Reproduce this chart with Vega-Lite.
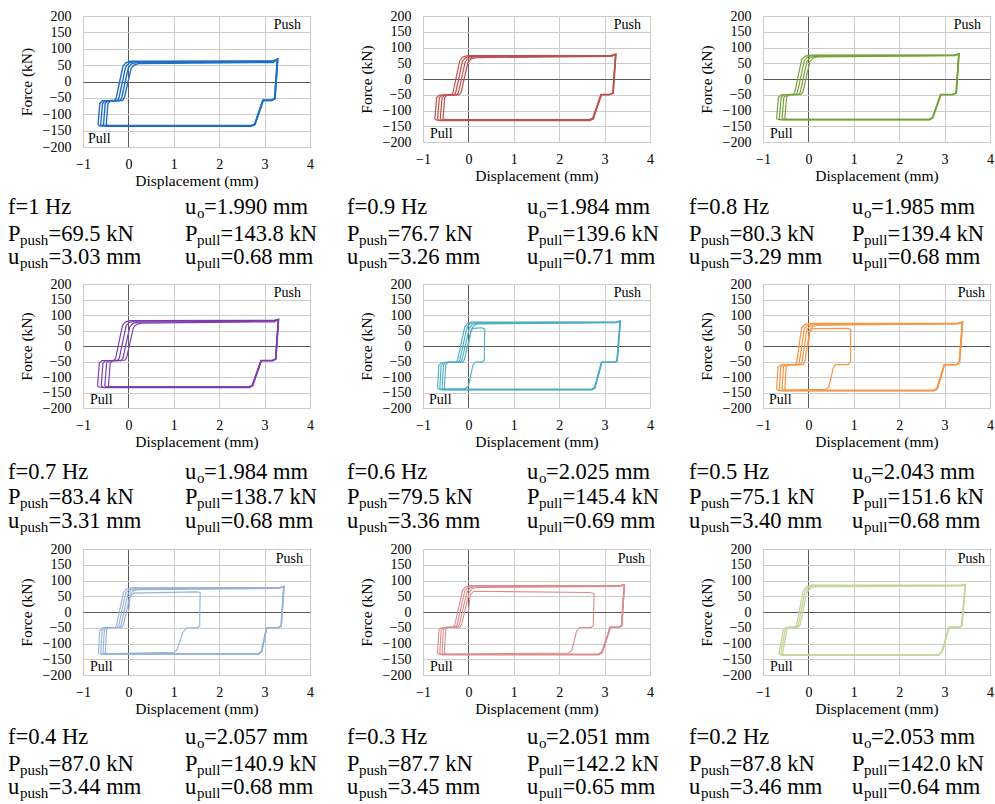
{
"$schema": "https://vega.github.io/schema/vega-lite/v6.json",
"usermeta": {"embedOptions": {"actions": false}},
"padding": {"left": 8, "top": 8, "right": 0, "bottom": 3},
"columns": 3,
"spacing": {"row": 0, "column": 113},
"bounds": "flush",
"datasets": {
"tags": [{"t": "Push"}, {"t": "Pull"}],
"labels": [
{"p":1,"k":0,"r":0,"b":"f=1 Hz","s":"","t":""},{"p":1,"k":1,"r":0,"b":"u","s":"o","t":"=1.990 mm"},{"p":1,"k":0,"r":1,"b":"P","s":"push","t":"=69.5 kN"},{"p":1,"k":1,"r":1,"b":"P","s":"pull","t":"=143.8 kN"},{"p":1,"k":0,"r":2,"b":"u","s":"push","t":"=3.03 mm"},{"p":1,"k":1,"r":2,"b":"u","s":"pull","t":"=0.68 mm"},
{"p":2,"k":0,"r":0,"b":"f=0.9 Hz","s":"","t":""},{"p":2,"k":1,"r":0,"b":"u","s":"o","t":"=1.984 mm"},{"p":2,"k":0,"r":1,"b":"P","s":"push","t":"=76.7 kN"},{"p":2,"k":1,"r":1,"b":"P","s":"pull","t":"=139.6 kN"},{"p":2,"k":0,"r":2,"b":"u","s":"push","t":"=3.26 mm"},{"p":2,"k":1,"r":2,"b":"u","s":"pull","t":"=0.71 mm"},
{"p":3,"k":0,"r":0,"b":"f=0.8 Hz","s":"","t":""},{"p":3,"k":1,"r":0,"b":"u","s":"o","t":"=1.985 mm"},{"p":3,"k":0,"r":1,"b":"P","s":"push","t":"=80.3 kN"},{"p":3,"k":1,"r":1,"b":"P","s":"pull","t":"=139.4 kN"},{"p":3,"k":0,"r":2,"b":"u","s":"push","t":"=3.29 mm"},{"p":3,"k":1,"r":2,"b":"u","s":"pull","t":"=0.68 mm"},
{"p":4,"k":0,"r":0,"b":"f=0.7 Hz","s":"","t":""},{"p":4,"k":1,"r":0,"b":"u","s":"o","t":"=1.984 mm"},{"p":4,"k":0,"r":1,"b":"P","s":"push","t":"=83.4 kN"},{"p":4,"k":1,"r":1,"b":"P","s":"pull","t":"=138.7 kN"},{"p":4,"k":0,"r":2,"b":"u","s":"push","t":"=3.31 mm"},{"p":4,"k":1,"r":2,"b":"u","s":"pull","t":"=0.68 mm"},
{"p":5,"k":0,"r":0,"b":"f=0.6 Hz","s":"","t":""},{"p":5,"k":1,"r":0,"b":"u","s":"o","t":"=2.025 mm"},{"p":5,"k":0,"r":1,"b":"P","s":"push","t":"=79.5 kN"},{"p":5,"k":1,"r":1,"b":"P","s":"pull","t":"=145.4 kN"},{"p":5,"k":0,"r":2,"b":"u","s":"push","t":"=3.36 mm"},{"p":5,"k":1,"r":2,"b":"u","s":"pull","t":"=0.69 mm"},
{"p":6,"k":0,"r":0,"b":"f=0.5 Hz","s":"","t":""},{"p":6,"k":1,"r":0,"b":"u","s":"o","t":"=2.043 mm"},{"p":6,"k":0,"r":1,"b":"P","s":"push","t":"=75.1 kN"},{"p":6,"k":1,"r":1,"b":"P","s":"pull","t":"=151.6 kN"},{"p":6,"k":0,"r":2,"b":"u","s":"push","t":"=3.40 mm"},{"p":6,"k":1,"r":2,"b":"u","s":"pull","t":"=0.68 mm"},
{"p":7,"k":0,"r":0,"b":"f=0.4 Hz","s":"","t":""},{"p":7,"k":1,"r":0,"b":"u","s":"o","t":"=2.057 mm"},{"p":7,"k":0,"r":1,"b":"P","s":"push","t":"=87.0 kN"},{"p":7,"k":1,"r":1,"b":"P","s":"pull","t":"=140.9 kN"},{"p":7,"k":0,"r":2,"b":"u","s":"push","t":"=3.44 mm"},{"p":7,"k":1,"r":2,"b":"u","s":"pull","t":"=0.68 mm"},
{"p":8,"k":0,"r":0,"b":"f=0.3 Hz","s":"","t":""},{"p":8,"k":1,"r":0,"b":"u","s":"o","t":"=2.051 mm"},{"p":8,"k":0,"r":1,"b":"P","s":"push","t":"=87.7 kN"},{"p":8,"k":1,"r":1,"b":"P","s":"pull","t":"=142.2 kN"},{"p":8,"k":0,"r":2,"b":"u","s":"push","t":"=3.45 mm"},{"p":8,"k":1,"r":2,"b":"u","s":"pull","t":"=0.65 mm"},
{"p":9,"k":0,"r":0,"b":"f=0.2 Hz","s":"","t":""},{"p":9,"k":1,"r":0,"b":"u","s":"o","t":"=2.053 mm"},{"p":9,"k":0,"r":1,"b":"P","s":"push","t":"=87.8 kN"},{"p":9,"k":1,"r":1,"b":"P","s":"pull","t":"=142.0 kN"},{"p":9,"k":0,"r":2,"b":"u","s":"push","t":"=3.46 mm"},{"p":9,"k":1,"r":2,"b":"u","s":"pull","t":"=0.64 mm"}
],
"loops": [
{"p":1,"c":0,"x":-0.67,"y":-133},{"p":1,"c":0,"x":-0.63,"y":-67},{"p":1,"c":0,"x":-0.57,"y":-59},{"p":1,"c":0,"x":-0.31,"y":-59},{"p":1,"c":0,"x":-0.27,"y":-51},{"p":1,"c":0,"x":-0.12,"y":47},{"p":1,"c":0,"x":-0.05,"y":58},{"p":1,"c":0,"x":0.05,"y":62},{"p":1,"c":0,"x":3.19,"y":63},{"p":1,"c":0,"x":3.29,"y":69},{"p":1,"c":0,"x":3.23,"y":-53},{"p":1,"c":0,"x":3.15,"y":-58},{"p":1,"c":0,"x":2.97,"y":-58},{"p":1,"c":0,"x":2.79,"y":-131},{"p":1,"c":0,"x":2.71,"y":-136},{"p":1,"c":0,"x":-0.62,"y":-136},{"p":1,"c":0,"x":-0.67,"y":-133},
{"p":1,"c":1,"x":-0.61,"y":-133},{"p":1,"c":1,"x":-0.57,"y":-67},{"p":1,"c":1,"x":-0.51,"y":-59},{"p":1,"c":1,"x":-0.25,"y":-59},{"p":1,"c":1,"x":-0.21,"y":-51},{"p":1,"c":1,"x":-0.06,"y":45},{"p":1,"c":1,"x":0.01,"y":56},{"p":1,"c":1,"x":0.11,"y":60},{"p":1,"c":1,"x":3.19,"y":61},{"p":1,"c":1,"x":3.29,"y":69},{"p":1,"c":1,"x":3.23,"y":-53},{"p":1,"c":1,"x":3.15,"y":-58},{"p":1,"c":1,"x":2.97,"y":-58},{"p":1,"c":1,"x":2.79,"y":-130},{"p":1,"c":1,"x":2.71,"y":-134},{"p":1,"c":1,"x":-0.56,"y":-134},{"p":1,"c":1,"x":-0.61,"y":-133},
{"p":1,"c":2,"x":-0.55,"y":-134},{"p":1,"c":2,"x":-0.51,"y":-67},{"p":1,"c":2,"x":-0.45,"y":-59},{"p":1,"c":2,"x":-0.19,"y":-59},{"p":1,"c":2,"x":-0.15,"y":-51},{"p":1,"c":2,"x":0.0,"y":43},{"p":1,"c":2,"x":0.07,"y":54},{"p":1,"c":2,"x":0.17,"y":58},{"p":1,"c":2,"x":3.19,"y":60},{"p":1,"c":2,"x":3.28,"y":68},{"p":1,"c":2,"x":3.22,"y":-53},{"p":1,"c":2,"x":3.14,"y":-57},{"p":1,"c":2,"x":2.96,"y":-57},{"p":1,"c":2,"x":2.78,"y":-132},{"p":1,"c":2,"x":2.7,"y":-137},{"p":1,"c":2,"x":-0.5,"y":-137},{"p":1,"c":2,"x":-0.55,"y":-134},
{"p":1,"c":3,"x":-0.49,"y":-132},{"p":1,"c":3,"x":-0.45,"y":-67},{"p":1,"c":3,"x":-0.39,"y":-58},{"p":1,"c":3,"x":-0.13,"y":-58},{"p":1,"c":3,"x":-0.09,"y":-50},{"p":1,"c":3,"x":0.06,"y":40},{"p":1,"c":3,"x":0.13,"y":51},{"p":1,"c":3,"x":0.23,"y":55},{"p":1,"c":3,"x":3.19,"y":58},{"p":1,"c":3,"x":3.28,"y":68},{"p":1,"c":3,"x":3.22,"y":-52},{"p":1,"c":3,"x":3.14,"y":-57},{"p":1,"c":3,"x":2.96,"y":-57},{"p":1,"c":3,"x":2.78,"y":-130},{"p":1,"c":3,"x":2.7,"y":-135},{"p":1,"c":3,"x":-0.44,"y":-135},{"p":1,"c":3,"x":-0.49,"y":-132},

{"p":2,"c":0,"x":-0.74,"y":-128},{"p":2,"c":0,"x":-0.70,"y":-59},{"p":2,"c":0,"x":-0.64,"y":-51},{"p":2,"c":0,"x":-0.38,"y":-51},{"p":2,"c":0,"x":-0.34,"y":-43},{"p":2,"c":0,"x":-0.19,"y":59},{"p":2,"c":0,"x":-0.12,"y":70},{"p":2,"c":0,"x":-0.02,"y":74},{"p":2,"c":0,"x":3.15,"y":75},{"p":2,"c":0,"x":3.25,"y":79},{"p":2,"c":0,"x":3.19,"y":-45},{"p":2,"c":0,"x":3.11,"y":-50},{"p":2,"c":0,"x":2.93,"y":-50},{"p":2,"c":0,"x":2.75,"y":-126},{"p":2,"c":0,"x":2.67,"y":-131},{"p":2,"c":0,"x":-0.69,"y":-131},{"p":2,"c":0,"x":-0.74,"y":-128},
{"p":2,"c":1,"x":-0.68,"y":-128},{"p":2,"c":1,"x":-0.64,"y":-59},{"p":2,"c":1,"x":-0.58,"y":-51},{"p":2,"c":1,"x":-0.32,"y":-51},{"p":2,"c":1,"x":-0.28,"y":-43},{"p":2,"c":1,"x":-0.13,"y":57},{"p":2,"c":1,"x":-0.06,"y":68},{"p":2,"c":1,"x":0.04,"y":72},{"p":2,"c":1,"x":3.15,"y":74},{"p":2,"c":1,"x":3.25,"y":79},{"p":2,"c":1,"x":3.19,"y":-45},{"p":2,"c":1,"x":3.11,"y":-50},{"p":2,"c":1,"x":2.93,"y":-50},{"p":2,"c":1,"x":2.75,"y":-127},{"p":2,"c":1,"x":2.67,"y":-132},{"p":2,"c":1,"x":-0.63,"y":-132},{"p":2,"c":1,"x":-0.68,"y":-128},
{"p":2,"c":2,"x":-0.62,"y":-127},{"p":2,"c":2,"x":-0.58,"y":-59},{"p":2,"c":2,"x":-0.52,"y":-51},{"p":2,"c":2,"x":-0.26,"y":-51},{"p":2,"c":2,"x":-0.22,"y":-43},{"p":2,"c":2,"x":-0.07,"y":55},{"p":2,"c":2,"x":0.0,"y":66},{"p":2,"c":2,"x":0.1,"y":70},{"p":2,"c":2,"x":3.15,"y":73},{"p":2,"c":2,"x":3.24,"y":78},{"p":2,"c":2,"x":3.18,"y":-45},{"p":2,"c":2,"x":3.1,"y":-50},{"p":2,"c":2,"x":2.92,"y":-50},{"p":2,"c":2,"x":2.74,"y":-125},{"p":2,"c":2,"x":2.66,"y":-130},{"p":2,"c":2,"x":-0.57,"y":-130},{"p":2,"c":2,"x":-0.62,"y":-127},
{"p":2,"c":3,"x":-0.56,"y":-126},{"p":2,"c":3,"x":-0.52,"y":-58},{"p":2,"c":3,"x":-0.46,"y":-50},{"p":2,"c":3,"x":-0.2,"y":-50},{"p":2,"c":3,"x":-0.16,"y":-42},{"p":2,"c":3,"x":-0.01,"y":53},{"p":2,"c":3,"x":0.06,"y":64},{"p":2,"c":3,"x":0.16,"y":68},{"p":2,"c":3,"x":3.15,"y":72},{"p":2,"c":3,"x":3.24,"y":78},{"p":2,"c":3,"x":3.18,"y":-45},{"p":2,"c":3,"x":3.1,"y":-49},{"p":2,"c":3,"x":2.92,"y":-49},{"p":2,"c":3,"x":2.74,"y":-124},{"p":2,"c":3,"x":2.66,"y":-129},{"p":2,"c":3,"x":-0.51,"y":-129},{"p":2,"c":3,"x":-0.56,"y":-126},

{"p":3,"c":0,"x":-0.70,"y":-126},{"p":3,"c":0,"x":-0.66,"y":-58},{"p":3,"c":0,"x":-0.60,"y":-50},{"p":3,"c":0,"x":-0.34,"y":-50},{"p":3,"c":0,"x":-0.30,"y":-42},{"p":3,"c":0,"x":-0.15,"y":61},{"p":3,"c":0,"x":-0.08,"y":72},{"p":3,"c":0,"x":0.02,"y":76},{"p":3,"c":0,"x":3.22,"y":77},{"p":3,"c":0,"x":3.32,"y":80},{"p":3,"c":0,"x":3.26,"y":-45},{"p":3,"c":0,"x":3.18,"y":-50},{"p":3,"c":0,"x":2.92,"y":-50},{"p":3,"c":0,"x":2.74,"y":-123},{"p":3,"c":0,"x":2.67,"y":-129},{"p":3,"c":0,"x":-0.65,"y":-129},{"p":3,"c":0,"x":-0.70,"y":-126},
{"p":3,"c":1,"x":-0.64,"y":-126},{"p":3,"c":1,"x":-0.60,"y":-58},{"p":3,"c":1,"x":-0.54,"y":-50},{"p":3,"c":1,"x":-0.28,"y":-50},{"p":3,"c":1,"x":-0.24,"y":-42},{"p":3,"c":1,"x":-0.09,"y":59},{"p":3,"c":1,"x":-0.02,"y":70},{"p":3,"c":1,"x":0.08,"y":74},{"p":3,"c":1,"x":3.22,"y":76},{"p":3,"c":1,"x":3.32,"y":80},{"p":3,"c":1,"x":3.26,"y":-45},{"p":3,"c":1,"x":3.18,"y":-50},{"p":3,"c":1,"x":2.92,"y":-50},{"p":3,"c":1,"x":2.74,"y":-124},{"p":3,"c":1,"x":2.67,"y":-130},{"p":3,"c":1,"x":-0.59,"y":-130},{"p":3,"c":1,"x":-0.64,"y":-126},
{"p":3,"c":2,"x":-0.58,"y":-125},{"p":3,"c":2,"x":-0.54,"y":-58},{"p":3,"c":2,"x":-0.48,"y":-50},{"p":3,"c":2,"x":-0.22,"y":-50},{"p":3,"c":2,"x":-0.18,"y":-42},{"p":3,"c":2,"x":-0.03,"y":57},{"p":3,"c":2,"x":0.04,"y":68},{"p":3,"c":2,"x":0.14,"y":72},{"p":3,"c":2,"x":3.22,"y":75},{"p":3,"c":2,"x":3.31,"y":79},{"p":3,"c":2,"x":3.25,"y":-45},{"p":3,"c":2,"x":3.17,"y":-50},{"p":3,"c":2,"x":2.91,"y":-50},{"p":3,"c":2,"x":2.73,"y":-123},{"p":3,"c":2,"x":2.66,"y":-128},{"p":3,"c":2,"x":-0.53,"y":-128},{"p":3,"c":2,"x":-0.58,"y":-125},
{"p":3,"c":3,"x":-0.52,"y":-125},{"p":3,"c":3,"x":-0.48,"y":-57},{"p":3,"c":3,"x":-0.42,"y":-49},{"p":3,"c":3,"x":-0.16,"y":-49},{"p":3,"c":3,"x":-0.12,"y":-41},{"p":3,"c":3,"x":0.03,"y":55},{"p":3,"c":3,"x":0.10,"y":66},{"p":3,"c":3,"x":0.20,"y":70},{"p":3,"c":3,"x":3.22,"y":74},{"p":3,"c":3,"x":3.31,"y":79},{"p":3,"c":3,"x":3.25,"y":-45},{"p":3,"c":3,"x":3.17,"y":-49},{"p":3,"c":3,"x":2.91,"y":-49},{"p":3,"c":3,"x":2.73,"y":-123},{"p":3,"c":3,"x":2.66,"y":-128},{"p":3,"c":3,"x":-0.47,"y":-128},{"p":3,"c":3,"x":-0.52,"y":-125},

{"p":4,"c":0,"x":-0.68,"y":-130},{"p":4,"c":0,"x":-0.64,"y":-55},{"p":4,"c":0,"x":-0.58,"y":-47},{"p":4,"c":0,"x":-0.32,"y":-47},{"p":4,"c":0,"x":-0.28,"y":-39},{"p":4,"c":0,"x":-0.13,"y":67},{"p":4,"c":0,"x":-0.06,"y":78},{"p":4,"c":0,"x":0.04,"y":82},{"p":4,"c":0,"x":3.21,"y":83},{"p":4,"c":0,"x":3.31,"y":86},{"p":4,"c":0,"x":3.25,"y":-42},{"p":4,"c":0,"x":3.18,"y":-47},{"p":4,"c":0,"x":2.93,"y":-47},{"p":4,"c":0,"x":2.74,"y":-127},{"p":4,"c":0,"x":2.67,"y":-133},{"p":4,"c":0,"x":-0.63,"y":-133},{"p":4,"c":0,"x":-0.68,"y":-130},
{"p":4,"c":1,"x":-0.60,"y":-130},{"p":4,"c":1,"x":-0.56,"y":-55},{"p":4,"c":1,"x":-0.50,"y":-47},{"p":4,"c":1,"x":-0.24,"y":-47},{"p":4,"c":1,"x":-0.20,"y":-39},{"p":4,"c":1,"x":-0.05,"y":65},{"p":4,"c":1,"x":0.02,"y":76},{"p":4,"c":1,"x":0.12,"y":80},{"p":4,"c":1,"x":3.21,"y":82},{"p":4,"c":1,"x":3.31,"y":86},{"p":4,"c":1,"x":3.25,"y":-42},{"p":4,"c":1,"x":3.18,"y":-47},{"p":4,"c":1,"x":2.93,"y":-47},{"p":4,"c":1,"x":2.74,"y":-128},{"p":4,"c":1,"x":2.67,"y":-134},{"p":4,"c":1,"x":-0.55,"y":-134},{"p":4,"c":1,"x":-0.60,"y":-130},
{"p":4,"c":2,"x":-0.52,"y":-129},{"p":4,"c":2,"x":-0.48,"y":-55},{"p":4,"c":2,"x":-0.42,"y":-47},{"p":4,"c":2,"x":-0.16,"y":-47},{"p":4,"c":2,"x":-0.12,"y":-39},{"p":4,"c":2,"x":0.03,"y":62},{"p":4,"c":2,"x":0.10,"y":73},{"p":4,"c":2,"x":0.20,"y":77},{"p":4,"c":2,"x":3.21,"y":80},{"p":4,"c":2,"x":3.30,"y":85},{"p":4,"c":2,"x":3.24,"y":-42},{"p":4,"c":2,"x":3.17,"y":-47},{"p":4,"c":2,"x":2.92,"y":-47},{"p":4,"c":2,"x":2.73,"y":-126},{"p":4,"c":2,"x":2.66,"y":-132},{"p":4,"c":2,"x":-0.47,"y":-132},{"p":4,"c":2,"x":-0.52,"y":-129},
{"p":4,"c":3,"x":-0.44,"y":-129},{"p":4,"c":3,"x":-0.40,"y":-54},{"p":4,"c":3,"x":-0.34,"y":-46},{"p":4,"c":3,"x":-0.08,"y":-46},{"p":4,"c":3,"x":-0.04,"y":-38},{"p":4,"c":3,"x":0.11,"y":59},{"p":4,"c":3,"x":0.18,"y":70},{"p":4,"c":3,"x":0.28,"y":74},{"p":4,"c":3,"x":3.21,"y":78},{"p":4,"c":3,"x":3.30,"y":85},{"p":4,"c":3,"x":3.24,"y":-42},{"p":4,"c":3,"x":3.17,"y":-46},{"p":4,"c":3,"x":2.92,"y":-46},{"p":4,"c":3,"x":2.73,"y":-126},{"p":4,"c":3,"x":2.66,"y":-132},{"p":4,"c":3,"x":-0.39,"y":-132},{"p":4,"c":3,"x":-0.44,"y":-129},

{"p":5,"c":9,"x":0.0,"y":0},{"p":5,"c":9,"x":0.05,"y":45},{"p":5,"c":9,"x":0.1,"y":57},{"p":5,"c":9,"x":0.3,"y":59},{"p":5,"c":9,"x":0.36,"y":55},{"p":5,"c":9,"x":0.35,"y":-45},{"p":5,"c":9,"x":0.3,"y":-52},{"p":5,"c":9,"x":0.16,"y":-52},{"p":5,"c":9,"x":0.1,"y":-62},{"p":5,"c":9,"x":0.0,"y":-130},{"p":5,"c":9,"x":-0.08,"y":-138},{"p":5,"c":9,"x":-0.6,"y":-140},
{"p":5,"c":0,"x":-0.68,"y":-137},{"p":5,"c":0,"x":-0.65,"y":-62},{"p":5,"c":0,"x":-0.59,"y":-53},{"p":5,"c":0,"x":-0.28,"y":-53},{"p":5,"c":0,"x":-0.24,"y":-45},{"p":5,"c":0,"x":-0.08,"y":61},{"p":5,"c":0,"x":-0.02,"y":73},{"p":5,"c":0,"x":0.06,"y":77},{"p":5,"c":0,"x":3.25,"y":78},{"p":5,"c":0,"x":3.35,"y":81},{"p":5,"c":0,"x":3.28,"y":-48},{"p":5,"c":0,"x":3.22,"y":-53},{"p":5,"c":0,"x":2.94,"y":-53},{"p":5,"c":0,"x":2.79,"y":-135},{"p":5,"c":0,"x":2.72,"y":-141},{"p":5,"c":0,"x":-0.63,"y":-141},{"p":5,"c":0,"x":-0.68,"y":-137},
{"p":5,"c":1,"x":-0.63,"y":-137},{"p":5,"c":1,"x":-0.60,"y":-62},{"p":5,"c":1,"x":-0.54,"y":-53},{"p":5,"c":1,"x":-0.23,"y":-53},{"p":5,"c":1,"x":-0.19,"y":-45},{"p":5,"c":1,"x":-0.03,"y":59},{"p":5,"c":1,"x":0.03,"y":71},{"p":5,"c":1,"x":0.11,"y":75},{"p":5,"c":1,"x":3.25,"y":77},{"p":5,"c":1,"x":3.35,"y":81},{"p":5,"c":1,"x":3.28,"y":-48},{"p":5,"c":1,"x":3.22,"y":-53},{"p":5,"c":1,"x":2.94,"y":-53},{"p":5,"c":1,"x":2.79,"y":-136},{"p":5,"c":1,"x":2.72,"y":-142},{"p":5,"c":1,"x":-0.58,"y":-142},{"p":5,"c":1,"x":-0.63,"y":-137},
{"p":5,"c":2,"x":-0.58,"y":-136},{"p":5,"c":2,"x":-0.55,"y":-61},{"p":5,"c":2,"x":-0.49,"y":-52},{"p":5,"c":2,"x":-0.18,"y":-52},{"p":5,"c":2,"x":-0.14,"y":-44},{"p":5,"c":2,"x":0.02,"y":57},{"p":5,"c":2,"x":0.08,"y":69},{"p":5,"c":2,"x":0.16,"y":73},{"p":5,"c":2,"x":3.25,"y":76},{"p":5,"c":2,"x":3.34,"y":80},{"p":5,"c":2,"x":3.27,"y":-48},{"p":5,"c":2,"x":3.21,"y":-52},{"p":5,"c":2,"x":2.93,"y":-52},{"p":5,"c":2,"x":2.78,"y":-134},{"p":5,"c":2,"x":2.71,"y":-140},{"p":5,"c":2,"x":-0.53,"y":-140},{"p":5,"c":2,"x":-0.58,"y":-136},
{"p":5,"c":3,"x":-0.53,"y":-136},{"p":5,"c":3,"x":-0.50,"y":-61},{"p":5,"c":3,"x":-0.44,"y":-52},{"p":5,"c":3,"x":-0.13,"y":-52},{"p":5,"c":3,"x":-0.09,"y":-44},{"p":5,"c":3,"x":0.07,"y":55},{"p":5,"c":3,"x":0.13,"y":67},{"p":5,"c":3,"x":0.21,"y":71},{"p":5,"c":3,"x":3.25,"y":75},{"p":5,"c":3,"x":3.34,"y":80},{"p":5,"c":3,"x":3.27,"y":-48},{"p":5,"c":3,"x":3.21,"y":-52},{"p":5,"c":3,"x":2.93,"y":-52},{"p":5,"c":3,"x":2.78,"y":-134},{"p":5,"c":3,"x":2.71,"y":-140},{"p":5,"c":3,"x":-0.48,"y":-140},{"p":5,"c":3,"x":-0.53,"y":-136},

{"p":6,"c":9,"x":0.0,"y":0},{"p":6,"c":9,"x":0.03,"y":45},{"p":6,"c":9,"x":0.1,"y":56},{"p":6,"c":9,"x":0.85,"y":57},{"p":6,"c":9,"x":0.93,"y":54},{"p":6,"c":9,"x":0.93,"y":-50},{"p":6,"c":9,"x":0.88,"y":-60},{"p":6,"c":9,"x":0.6,"y":-60},{"p":6,"c":9,"x":0.55,"y":-70},{"p":6,"c":9,"x":0.45,"y":-132},{"p":6,"c":9,"x":0.38,"y":-140},{"p":6,"c":9,"x":-0.6,"y":-143},
{"p":6,"c":0,"x":-0.70,"y":-140},{"p":6,"c":0,"x":-0.67,"y":-69},{"p":6,"c":0,"x":-0.61,"y":-61},{"p":6,"c":0,"x":-0.30,"y":-61},{"p":6,"c":0,"x":-0.26,"y":-53},{"p":6,"c":0,"x":-0.15,"y":58},{"p":6,"c":0,"x":-0.08,"y":69},{"p":6,"c":0,"x":0.02,"y":73},{"p":6,"c":0,"x":3.30,"y":74},{"p":6,"c":0,"x":3.40,"y":78},{"p":6,"c":0,"x":3.33,"y":-53},{"p":6,"c":0,"x":3.27,"y":-60},{"p":6,"c":0,"x":3.0,"y":-60},{"p":6,"c":0,"x":2.84,"y":-138},{"p":6,"c":0,"x":2.76,"y":-144},{"p":6,"c":0,"x":-0.65,"y":-144},{"p":6,"c":0,"x":-0.70,"y":-140},
{"p":6,"c":1,"x":-0.64,"y":-140},{"p":6,"c":1,"x":-0.61,"y":-69},{"p":6,"c":1,"x":-0.55,"y":-61},{"p":6,"c":1,"x":-0.24,"y":-61},{"p":6,"c":1,"x":-0.20,"y":-53},{"p":6,"c":1,"x":-0.09,"y":56},{"p":6,"c":1,"x":-0.02,"y":67},{"p":6,"c":1,"x":0.08,"y":71},{"p":6,"c":1,"x":3.30,"y":73},{"p":6,"c":1,"x":3.40,"y":78},{"p":6,"c":1,"x":3.33,"y":-53},{"p":6,"c":1,"x":3.27,"y":-60},{"p":6,"c":1,"x":3.0,"y":-60},{"p":6,"c":1,"x":2.84,"y":-139},{"p":6,"c":1,"x":2.76,"y":-145},{"p":6,"c":1,"x":-0.59,"y":-145},{"p":6,"c":1,"x":-0.64,"y":-140},
{"p":6,"c":2,"x":-0.58,"y":-139},{"p":6,"c":2,"x":-0.55,"y":-68},{"p":6,"c":2,"x":-0.49,"y":-60},{"p":6,"c":2,"x":-0.18,"y":-60},{"p":6,"c":2,"x":-0.14,"y":-52},{"p":6,"c":2,"x":-0.03,"y":54},{"p":6,"c":2,"x":0.04,"y":65},{"p":6,"c":2,"x":0.14,"y":69},{"p":6,"c":2,"x":3.30,"y":72},{"p":6,"c":2,"x":3.39,"y":77},{"p":6,"c":2,"x":3.32,"y":-53},{"p":6,"c":2,"x":3.26,"y":-60},{"p":6,"c":2,"x":2.99,"y":-60},{"p":6,"c":2,"x":2.83,"y":-137},{"p":6,"c":2,"x":2.75,"y":-143},{"p":6,"c":2,"x":-0.53,"y":-143},{"p":6,"c":2,"x":-0.58,"y":-139},
{"p":6,"c":3,"x":-0.52,"y":-139},{"p":6,"c":3,"x":-0.49,"y":-68},{"p":6,"c":3,"x":-0.43,"y":-60},{"p":6,"c":3,"x":-0.12,"y":-60},{"p":6,"c":3,"x":-0.08,"y":-52},{"p":6,"c":3,"x":0.03,"y":52},{"p":6,"c":3,"x":0.10,"y":63},{"p":6,"c":3,"x":0.20,"y":67},{"p":6,"c":3,"x":3.30,"y":71},{"p":6,"c":3,"x":3.39,"y":77},{"p":6,"c":3,"x":3.32,"y":-53},{"p":6,"c":3,"x":3.26,"y":-60},{"p":6,"c":3,"x":2.99,"y":-60},{"p":6,"c":3,"x":2.83,"y":-137},{"p":6,"c":3,"x":2.75,"y":-143},{"p":6,"c":3,"x":-0.47,"y":-143},{"p":6,"c":3,"x":-0.52,"y":-139},

{"p":7,"c":9,"x":0.0,"y":0},{"p":7,"c":9,"x":0.04,"y":50},{"p":7,"c":9,"x":0.12,"y":60},{"p":7,"c":9,"x":1.5,"y":64},{"p":7,"c":9,"x":1.58,"y":62},{"p":7,"c":9,"x":1.57,"y":-45},{"p":7,"c":9,"x":1.52,"y":-50},{"p":7,"c":9,"x":1.29,"y":-50},{"p":7,"c":9,"x":1.2,"y":-65},{"p":7,"c":9,"x":1.07,"y":-120},{"p":7,"c":9,"x":1.0,"y":-128},{"p":7,"c":9,"x":-0.6,"y":-133},
{"p":7,"c":0,"x":-0.66,"y":-130},{"p":7,"c":0,"x":-0.63,"y":-58},{"p":7,"c":0,"x":-0.57,"y":-50},{"p":7,"c":0,"x":-0.30,"y":-50},{"p":7,"c":0,"x":-0.26,"y":-42},{"p":7,"c":0,"x":-0.11,"y":62},{"p":7,"c":0,"x":-0.04,"y":73},{"p":7,"c":0,"x":0.06,"y":77},{"p":7,"c":0,"x":3.33,"y":78},{"p":7,"c":0,"x":3.43,"y":82},{"p":7,"c":0,"x":3.37,"y":-45},{"p":7,"c":0,"x":3.31,"y":-50},{"p":7,"c":0,"x":3.05,"y":-50},{"p":7,"c":0,"x":2.94,"y":-125},{"p":7,"c":0,"x":2.87,"y":-133},{"p":7,"c":0,"x":-0.61,"y":-133},{"p":7,"c":0,"x":-0.66,"y":-130},
{"p":7,"c":1,"x":-0.61,"y":-130},{"p":7,"c":1,"x":-0.58,"y":-58},{"p":7,"c":1,"x":-0.52,"y":-50},{"p":7,"c":1,"x":-0.25,"y":-50},{"p":7,"c":1,"x":-0.21,"y":-42},{"p":7,"c":1,"x":-0.06,"y":60},{"p":7,"c":1,"x":0.01,"y":71},{"p":7,"c":1,"x":0.11,"y":75},{"p":7,"c":1,"x":3.33,"y":77},{"p":7,"c":1,"x":3.43,"y":82},{"p":7,"c":1,"x":3.37,"y":-45},{"p":7,"c":1,"x":3.31,"y":-50},{"p":7,"c":1,"x":3.05,"y":-50},{"p":7,"c":1,"x":2.94,"y":-126},{"p":7,"c":1,"x":2.87,"y":-134},{"p":7,"c":1,"x":-0.56,"y":-134},{"p":7,"c":1,"x":-0.61,"y":-130},
{"p":7,"c":2,"x":-0.56,"y":-129},{"p":7,"c":2,"x":-0.53,"y":-57},{"p":7,"c":2,"x":-0.47,"y":-49},{"p":7,"c":2,"x":-0.20,"y":-49},{"p":7,"c":2,"x":-0.16,"y":-41},{"p":7,"c":2,"x":-0.01,"y":58},{"p":7,"c":2,"x":0.06,"y":69},{"p":7,"c":2,"x":0.16,"y":73},{"p":7,"c":2,"x":3.33,"y":76},{"p":7,"c":2,"x":3.42,"y":81},{"p":7,"c":2,"x":3.36,"y":-45},{"p":7,"c":2,"x":3.30,"y":-49},{"p":7,"c":2,"x":3.04,"y":-49},{"p":7,"c":2,"x":2.93,"y":-124},{"p":7,"c":2,"x":2.86,"y":-132},{"p":7,"c":2,"x":-0.51,"y":-132},{"p":7,"c":2,"x":-0.56,"y":-129},
{"p":7,"c":3,"x":-0.51,"y":-129},{"p":7,"c":3,"x":-0.48,"y":-57},{"p":7,"c":3,"x":-0.42,"y":-49},{"p":7,"c":3,"x":-0.15,"y":-49},{"p":7,"c":3,"x":-0.11,"y":-41},{"p":7,"c":3,"x":0.04,"y":56},{"p":7,"c":3,"x":0.11,"y":67},{"p":7,"c":3,"x":0.21,"y":71},{"p":7,"c":3,"x":3.33,"y":75},{"p":7,"c":3,"x":3.42,"y":81},{"p":7,"c":3,"x":3.36,"y":-45},{"p":7,"c":3,"x":3.30,"y":-49},{"p":7,"c":3,"x":3.04,"y":-49},{"p":7,"c":3,"x":2.93,"y":-124},{"p":7,"c":3,"x":2.86,"y":-132},{"p":7,"c":3,"x":-0.46,"y":-132},{"p":7,"c":3,"x":-0.51,"y":-129},

{"p":8,"c":9,"x":0.0,"y":0},{"p":8,"c":9,"x":0.04,"y":55},{"p":8,"c":9,"x":0.12,"y":66},{"p":8,"c":9,"x":2.68,"y":62},{"p":8,"c":9,"x":2.77,"y":58},{"p":8,"c":9,"x":2.75,"y":-44},{"p":8,"c":9,"x":2.7,"y":-49},{"p":8,"c":9,"x":2.45,"y":-49},{"p":8,"c":9,"x":2.38,"y":-62},{"p":8,"c":9,"x":2.28,"y":-122},{"p":8,"c":9,"x":2.2,"y":-130},{"p":8,"c":9,"x":-0.6,"y":-134},
{"p":8,"c":0,"x":-0.68,"y":-131},{"p":8,"c":0,"x":-0.65,"y":-57},{"p":8,"c":0,"x":-0.59,"y":-49},{"p":8,"c":0,"x":-0.34,"y":-49},{"p":8,"c":0,"x":-0.30,"y":-41},{"p":8,"c":0,"x":-0.13,"y":69},{"p":8,"c":0,"x":-0.06,"y":80},{"p":8,"c":0,"x":0.04,"y":84},{"p":8,"c":0,"x":3.34,"y":84},{"p":8,"c":0,"x":3.44,"y":87},{"p":8,"c":0,"x":3.38,"y":-44},{"p":8,"c":0,"x":3.32,"y":-49},{"p":8,"c":0,"x":3.13,"y":-49},{"p":8,"c":0,"x":2.95,"y":-128},{"p":8,"c":0,"x":2.87,"y":-135},{"p":8,"c":0,"x":-0.63,"y":-135},{"p":8,"c":0,"x":-0.68,"y":-131},
{"p":8,"c":1,"x":-0.63,"y":-131},{"p":8,"c":1,"x":-0.60,"y":-57},{"p":8,"c":1,"x":-0.54,"y":-49},{"p":8,"c":1,"x":-0.29,"y":-49},{"p":8,"c":1,"x":-0.25,"y":-41},{"p":8,"c":1,"x":-0.08,"y":67},{"p":8,"c":1,"x":-0.01,"y":78},{"p":8,"c":1,"x":0.09,"y":82},{"p":8,"c":1,"x":3.34,"y":83},{"p":8,"c":1,"x":3.44,"y":87},{"p":8,"c":1,"x":3.38,"y":-44},{"p":8,"c":1,"x":3.32,"y":-49},{"p":8,"c":1,"x":3.13,"y":-49},{"p":8,"c":1,"x":2.95,"y":-129},{"p":8,"c":1,"x":2.87,"y":-136},{"p":8,"c":1,"x":-0.58,"y":-136},{"p":8,"c":1,"x":-0.63,"y":-131},
{"p":8,"c":2,"x":-0.58,"y":-130},{"p":8,"c":2,"x":-0.55,"y":-56},{"p":8,"c":2,"x":-0.49,"y":-48},{"p":8,"c":2,"x":-0.24,"y":-48},{"p":8,"c":2,"x":-0.20,"y":-40},{"p":8,"c":2,"x":-0.03,"y":65},{"p":8,"c":2,"x":0.04,"y":76},{"p":8,"c":2,"x":0.14,"y":80},{"p":8,"c":2,"x":3.34,"y":82},{"p":8,"c":2,"x":3.43,"y":86},{"p":8,"c":2,"x":3.37,"y":-44},{"p":8,"c":2,"x":3.31,"y":-48},{"p":8,"c":2,"x":3.12,"y":-48},{"p":8,"c":2,"x":2.94,"y":-127},{"p":8,"c":2,"x":2.86,"y":-134},{"p":8,"c":2,"x":-0.53,"y":-134},{"p":8,"c":2,"x":-0.58,"y":-130},
{"p":8,"c":3,"x":-0.53,"y":-130},{"p":8,"c":3,"x":-0.50,"y":-56},{"p":8,"c":3,"x":-0.44,"y":-48},{"p":8,"c":3,"x":-0.19,"y":-48},{"p":8,"c":3,"x":-0.15,"y":-40},{"p":8,"c":3,"x":0.02,"y":63},{"p":8,"c":3,"x":0.09,"y":74},{"p":8,"c":3,"x":0.19,"y":78},{"p":8,"c":3,"x":3.34,"y":81},{"p":8,"c":3,"x":3.43,"y":86},{"p":8,"c":3,"x":3.37,"y":-44},{"p":8,"c":3,"x":3.31,"y":-48},{"p":8,"c":3,"x":3.12,"y":-48},{"p":8,"c":3,"x":2.94,"y":-127},{"p":8,"c":3,"x":2.86,"y":-134},{"p":8,"c":3,"x":-0.48,"y":-134},{"p":8,"c":3,"x":-0.53,"y":-130},

{"p":9,"c":0,"x":-0.65,"y":-133},{"p":9,"c":0,"x":-0.55,"y":-55},{"p":9,"c":0,"x":-0.50,"y":-49},{"p":9,"c":0,"x":-0.30,"y":-49},{"p":9,"c":0,"x":-0.26,"y":-41},{"p":9,"c":0,"x":-0.12,"y":64},{"p":9,"c":0,"x":-0.04,"y":80},{"p":9,"c":0,"x":0.06,"y":85},{"p":9,"c":0,"x":3.36,"y":85},{"p":9,"c":0,"x":3.46,"y":88},{"p":9,"c":0,"x":3.38,"y":-44},{"p":9,"c":0,"x":3.32,"y":-49},{"p":9,"c":0,"x":3.10,"y":-49},{"p":9,"c":0,"x":2.95,"y":-125},{"p":9,"c":0,"x":2.87,"y":-137},{"p":9,"c":0,"x":-0.60,"y":-137},{"p":9,"c":0,"x":-0.65,"y":-133},
{"p":9,"c":1,"x":-0.61,"y":-133},{"p":9,"c":1,"x":-0.51,"y":-55},{"p":9,"c":1,"x":-0.46,"y":-49},{"p":9,"c":1,"x":-0.26,"y":-49},{"p":9,"c":1,"x":-0.22,"y":-41},{"p":9,"c":1,"x":-0.08,"y":62},{"p":9,"c":1,"x":0.0,"y":78},{"p":9,"c":1,"x":0.10,"y":83},{"p":9,"c":1,"x":3.36,"y":84},{"p":9,"c":1,"x":3.46,"y":88},{"p":9,"c":1,"x":3.38,"y":-44},{"p":9,"c":1,"x":3.32,"y":-49},{"p":9,"c":1,"x":3.10,"y":-49},{"p":9,"c":1,"x":2.95,"y":-126},{"p":9,"c":1,"x":2.87,"y":-138},{"p":9,"c":1,"x":-0.56,"y":-138},{"p":9,"c":1,"x":-0.61,"y":-133},
{"p":9,"c":2,"x":-0.57,"y":-132},{"p":9,"c":2,"x":-0.47,"y":-54},{"p":9,"c":2,"x":-0.42,"y":-48},{"p":9,"c":2,"x":-0.22,"y":-48},{"p":9,"c":2,"x":-0.18,"y":-40},{"p":9,"c":2,"x":-0.04,"y":60},{"p":9,"c":2,"x":0.04,"y":76},{"p":9,"c":2,"x":0.14,"y":80},{"p":9,"c":2,"x":3.36,"y":83},{"p":9,"c":2,"x":3.45,"y":87},{"p":9,"c":2,"x":3.37,"y":-44},{"p":9,"c":2,"x":3.31,"y":-48},{"p":9,"c":2,"x":3.09,"y":-48},{"p":9,"c":2,"x":2.94,"y":-125},{"p":9,"c":2,"x":2.86,"y":-136},{"p":9,"c":2,"x":-0.52,"y":-136},{"p":9,"c":2,"x":-0.57,"y":-132}
]
},
"concat": [
{"width":227,"height":131,"encoding":{"x":{"type":"quantitative","scale":{"domain":[-1,4],"nice":false,"zero":false},"axis":{"values":[-1,0,1,2,3,4],"title":"Displacement (mm)"}},"y":{"type":"quantitative","scale":{"domain":[-200,200],"nice":false,"zero":false},"axis":{"values":[-200,-150,-100,-50,0,50,100,150,200],"title":"Force (kN)"}}},"layer":[
 {"data":{"name":"loops"},"transform":[{"filter":"datum.p==1"}],"mark":{"type":"line","color":"#1f6fc6","strokeWidth":1.4},"encoding":{"x":{"field":"x"},"y":{"field":"y"},"detail":{"field":"c"},"order":{"value":null}}},
 {"data":{"name":"tags"},"transform":[{"filter":"datum.t=='Push'"}],"mark":{"type":"text","style":"serif","align":"right","baseline":"top","dx":-9,"dy":2,"fontSize":14},"encoding":{"x":{"datum":4},"y":{"datum":200},"text":{"field":"t"}}},
 {"data":{"name":"tags"},"transform":[{"filter":"datum.t=='Pull'"}],"mark":{"type":"text","style":"serif","align":"left","baseline":"alphabetic","dx":5,"dy":-4,"fontSize":14},"encoding":{"x":{"datum":-1},"y":{"datum":-200},"text":{"field":"t"}}}
]},
{"width":227,"height":126,"encoding":{"x":{"type":"quantitative","scale":{"domain":[-1,4],"nice":false,"zero":false},"axis":{"values":[-1,0,1,2,3,4],"title":"Displacement (mm)"}},"y":{"type":"quantitative","scale":{"domain":[-200,200],"nice":false,"zero":false},"axis":{"values":[-200,-150,-100,-50,0,50,100,150,200],"title":"Force (kN)"}}},"layer":[
 {"data":{"name":"loops"},"transform":[{"filter":"datum.p==2"}],"mark":{"type":"line","color":"#c0504d","strokeWidth":1.2},"encoding":{"x":{"field":"x"},"y":{"field":"y"},"detail":{"field":"c"},"order":{"value":null}}},
 {"data":{"name":"tags"},"transform":[{"filter":"datum.t=='Push'"}],"mark":{"type":"text","style":"serif","align":"right","baseline":"top","dx":-9,"dy":2,"fontSize":14},"encoding":{"x":{"datum":4},"y":{"datum":200},"text":{"field":"t"}}},
 {"data":{"name":"tags"},"transform":[{"filter":"datum.t=='Pull'"}],"mark":{"type":"text","style":"serif","align":"left","baseline":"alphabetic","dx":7,"dy":-4,"fontSize":14},"encoding":{"x":{"datum":-1},"y":{"datum":-200},"text":{"field":"t"}}}
]},
{"width":227,"height":126,"encoding":{"x":{"type":"quantitative","scale":{"domain":[-1,4],"nice":false,"zero":false},"axis":{"values":[-1,0,1,2,3,4],"title":"Displacement (mm)"}},"y":{"type":"quantitative","scale":{"domain":[-200,200],"nice":false,"zero":false},"axis":{"values":[-200,-150,-100,-50,0,50,100,150,200],"title":"Force (kN)"}}},"layer":[
 {"data":{"name":"loops"},"transform":[{"filter":"datum.p==3"}],"mark":{"type":"line","color":"#77a23b","strokeWidth":1.2},"encoding":{"x":{"field":"x"},"y":{"field":"y"},"detail":{"field":"c"},"order":{"value":null}}},
 {"data":{"name":"tags"},"transform":[{"filter":"datum.t=='Push'"}],"mark":{"type":"text","style":"serif","align":"right","baseline":"top","dx":-9,"dy":2,"fontSize":14},"encoding":{"x":{"datum":4},"y":{"datum":200},"text":{"field":"t"}}},
 {"data":{"name":"tags"},"transform":[{"filter":"datum.t=='Pull'"}],"mark":{"type":"text","style":"serif","align":"left","baseline":"alphabetic","dx":7,"dy":-4,"fontSize":14},"encoding":{"x":{"datum":-1},"y":{"datum":-200},"text":{"field":"t"}}}
]},
{"width":227,"height":137,"view":{"stroke":null},"data":{"name":"labels"},"transform":[{"filter":"datum.p==1"}],"encoding":{"x":{"field":"k","type":"quantitative","scale":{"domain":[0,1],"range":[-75,102]},"axis":null},"y":{"field":"r","type":"quantitative","scale":{"domain":[0,1,2],"range":[67,94,117]},"axis":null}},"layer":[
 {"mark":{"type":"text","style":"serif","align":"left","baseline":"alphabetic","fontSize":22.5},"encoding":{"text":{"field":"b"}}},
 {"mark":{"type":"text","style":"serif","align":"left","baseline":"alphabetic","fontSize":15,"dx":12,"dy":4},"encoding":{"text":{"field":"s"}}},
 {"transform":[{"filter":"datum.s=='push'"}],"mark":{"type":"text","style":"serif","align":"left","baseline":"alphabetic","fontSize":22.5,"dx":40.5},"encoding":{"text":{"field":"t"}}},
 {"transform":[{"filter":"datum.s=='pull'"}],"mark":{"type":"text","style":"serif","align":"left","baseline":"alphabetic","fontSize":22.5,"dx":35.5},"encoding":{"text":{"field":"t"}}},
 {"transform":[{"filter":"datum.s=='o'"}],"mark":{"type":"text","style":"serif","align":"left","baseline":"alphabetic","fontSize":22.5,"dx":19},"encoding":{"text":{"field":"t"}}}
]},
{"width":227,"height":137,"view":{"stroke":null},"data":{"name":"labels"},"transform":[{"filter":"datum.p==2"}],"encoding":{"x":{"field":"k","type":"quantitative","scale":{"domain":[0,1],"range":[-76,104]},"axis":null},"y":{"field":"r","type":"quantitative","scale":{"domain":[0,1,2],"range":[67,94,117]},"axis":null}},"layer":[
 {"mark":{"type":"text","style":"serif","align":"left","baseline":"alphabetic","fontSize":22.5},"encoding":{"text":{"field":"b"}}},
 {"mark":{"type":"text","style":"serif","align":"left","baseline":"alphabetic","fontSize":15,"dx":12,"dy":4},"encoding":{"text":{"field":"s"}}},
 {"transform":[{"filter":"datum.s=='push'"}],"mark":{"type":"text","style":"serif","align":"left","baseline":"alphabetic","fontSize":22.5,"dx":40.5},"encoding":{"text":{"field":"t"}}},
 {"transform":[{"filter":"datum.s=='pull'"}],"mark":{"type":"text","style":"serif","align":"left","baseline":"alphabetic","fontSize":22.5,"dx":35.5},"encoding":{"text":{"field":"t"}}},
 {"transform":[{"filter":"datum.s=='o'"}],"mark":{"type":"text","style":"serif","align":"left","baseline":"alphabetic","fontSize":22.5,"dx":19},"encoding":{"text":{"field":"t"}}}
]},
{"width":227,"height":137,"view":{"stroke":null},"data":{"name":"labels"},"transform":[{"filter":"datum.p==3"}],"encoding":{"x":{"field":"k","type":"quantitative","scale":{"domain":[0,1],"range":[-74,89]},"axis":null},"y":{"field":"r","type":"quantitative","scale":{"domain":[0,1,2],"range":[67,94,117]},"axis":null}},"layer":[
 {"mark":{"type":"text","style":"serif","align":"left","baseline":"alphabetic","fontSize":22.5},"encoding":{"text":{"field":"b"}}},
 {"mark":{"type":"text","style":"serif","align":"left","baseline":"alphabetic","fontSize":15,"dx":12,"dy":4},"encoding":{"text":{"field":"s"}}},
 {"transform":[{"filter":"datum.s=='push'"}],"mark":{"type":"text","style":"serif","align":"left","baseline":"alphabetic","fontSize":22.5,"dx":40.5},"encoding":{"text":{"field":"t"}}},
 {"transform":[{"filter":"datum.s=='pull'"}],"mark":{"type":"text","style":"serif","align":"left","baseline":"alphabetic","fontSize":22.5,"dx":35.5},"encoding":{"text":{"field":"t"}}},
 {"transform":[{"filter":"datum.s=='o'"}],"mark":{"type":"text","style":"serif","align":"left","baseline":"alphabetic","fontSize":22.5,"dx":19},"encoding":{"text":{"field":"t"}}}
]},
{"width":227,"height":124,"encoding":{"x":{"type":"quantitative","scale":{"domain":[-1,4],"nice":false,"zero":false},"axis":{"values":[-1,0,1,2,3,4],"title":"Displacement (mm)"}},"y":{"type":"quantitative","scale":{"domain":[-200,200],"nice":false,"zero":false},"axis":{"values":[-200,-150,-100,-50,0,50,100,150,200],"title":"Force (kN)"}}},"layer":[
 {"data":{"name":"loops"},"transform":[{"filter":"datum.p==4"}],"mark":{"type":"line","color":"#7a3cb0","strokeWidth":1.2},"encoding":{"x":{"field":"x"},"y":{"field":"y"},"detail":{"field":"c"},"order":{"value":null}}},
 {"data":{"name":"tags"},"transform":[{"filter":"datum.t=='Push'"}],"mark":{"type":"text","style":"serif","align":"right","baseline":"top","dx":-9,"dy":2,"fontSize":14},"encoding":{"x":{"datum":4},"y":{"datum":200},"text":{"field":"t"}}},
 {"data":{"name":"tags"},"transform":[{"filter":"datum.t=='Pull'"}],"mark":{"type":"text","style":"serif","align":"left","baseline":"alphabetic","dx":7,"dy":-4,"fontSize":14},"encoding":{"x":{"datum":-1},"y":{"datum":-200},"text":{"field":"t"}}}
]},
{"width":227,"height":124,"encoding":{"x":{"type":"quantitative","scale":{"domain":[-1,4],"nice":false,"zero":false},"axis":{"values":[-1,0,1,2,3,4],"title":"Displacement (mm)"}},"y":{"type":"quantitative","scale":{"domain":[-200,200],"nice":false,"zero":false},"axis":{"values":[-200,-150,-100,-50,0,50,100,150,200],"title":"Force (kN)"}}},"layer":[
 {"data":{"name":"loops"},"transform":[{"filter":"datum.p==5"}],"mark":{"type":"line","color":"#4bacc6","strokeWidth":1.1},"encoding":{"x":{"field":"x"},"y":{"field":"y"},"detail":{"field":"c"},"order":{"value":null}}},
 {"data":{"name":"tags"},"transform":[{"filter":"datum.t=='Push'"}],"mark":{"type":"text","style":"serif","align":"right","baseline":"top","dx":-9,"dy":2,"fontSize":14},"encoding":{"x":{"datum":4},"y":{"datum":200},"text":{"field":"t"}}},
 {"data":{"name":"tags"},"transform":[{"filter":"datum.t=='Pull'"}],"mark":{"type":"text","style":"serif","align":"left","baseline":"alphabetic","dx":6,"dy":-4,"fontSize":14},"encoding":{"x":{"datum":-1},"y":{"datum":-200},"text":{"field":"t"}}}
]},
{"width":227,"height":124,"encoding":{"x":{"type":"quantitative","scale":{"domain":[-1,4],"nice":false,"zero":false},"axis":{"values":[-1,0,1,2,3,4],"title":"Displacement (mm)"}},"y":{"type":"quantitative","scale":{"domain":[-200,200],"nice":false,"zero":false},"axis":{"values":[-200,-150,-100,-50,0,50,100,150,200],"title":"Force (kN)"}}},"layer":[
 {"data":{"name":"loops"},"transform":[{"filter":"datum.p==6"}],"mark":{"type":"line","color":"#f79646","strokeWidth":1.2},"encoding":{"x":{"field":"x"},"y":{"field":"y"},"detail":{"field":"c"},"order":{"value":null}}},
 {"data":{"name":"tags"},"transform":[{"filter":"datum.t=='Push'"}],"mark":{"type":"text","style":"serif","align":"right","baseline":"top","dx":-5,"dy":2,"fontSize":14},"encoding":{"x":{"datum":4},"y":{"datum":200},"text":{"field":"t"}}},
 {"data":{"name":"tags"},"transform":[{"filter":"datum.t=='Pull'"}],"mark":{"type":"text","style":"serif","align":"left","baseline":"alphabetic","dx":6,"dy":-4,"fontSize":14},"encoding":{"x":{"datum":-1},"y":{"datum":-200},"text":{"field":"t"}}}
]},
{"width":227,"height":141,"view":{"stroke":null},"data":{"name":"labels"},"transform":[{"filter":"datum.p==4"}],"encoding":{"x":{"field":"k","type":"quantitative","scale":{"domain":[0,1],"range":[-75,102]},"axis":null},"y":{"field":"r","type":"quantitative","scale":{"domain":[0,1,2],"range":[71,96,120]},"axis":null}},"layer":[
 {"mark":{"type":"text","style":"serif","align":"left","baseline":"alphabetic","fontSize":22.5},"encoding":{"text":{"field":"b"}}},
 {"mark":{"type":"text","style":"serif","align":"left","baseline":"alphabetic","fontSize":15,"dx":12,"dy":4},"encoding":{"text":{"field":"s"}}},
 {"transform":[{"filter":"datum.s=='push'"}],"mark":{"type":"text","style":"serif","align":"left","baseline":"alphabetic","fontSize":22.5,"dx":40.5},"encoding":{"text":{"field":"t"}}},
 {"transform":[{"filter":"datum.s=='pull'"}],"mark":{"type":"text","style":"serif","align":"left","baseline":"alphabetic","fontSize":22.5,"dx":35.5},"encoding":{"text":{"field":"t"}}},
 {"transform":[{"filter":"datum.s=='o'"}],"mark":{"type":"text","style":"serif","align":"left","baseline":"alphabetic","fontSize":22.5,"dx":19},"encoding":{"text":{"field":"t"}}}
]},
{"width":227,"height":141,"view":{"stroke":null},"data":{"name":"labels"},"transform":[{"filter":"datum.p==5"}],"encoding":{"x":{"field":"k","type":"quantitative","scale":{"domain":[0,1],"range":[-76,104]},"axis":null},"y":{"field":"r","type":"quantitative","scale":{"domain":[0,1,2],"range":[71,96,120]},"axis":null}},"layer":[
 {"mark":{"type":"text","style":"serif","align":"left","baseline":"alphabetic","fontSize":22.5},"encoding":{"text":{"field":"b"}}},
 {"mark":{"type":"text","style":"serif","align":"left","baseline":"alphabetic","fontSize":15,"dx":12,"dy":4},"encoding":{"text":{"field":"s"}}},
 {"transform":[{"filter":"datum.s=='push'"}],"mark":{"type":"text","style":"serif","align":"left","baseline":"alphabetic","fontSize":22.5,"dx":40.5},"encoding":{"text":{"field":"t"}}},
 {"transform":[{"filter":"datum.s=='pull'"}],"mark":{"type":"text","style":"serif","align":"left","baseline":"alphabetic","fontSize":22.5,"dx":35.5},"encoding":{"text":{"field":"t"}}},
 {"transform":[{"filter":"datum.s=='o'"}],"mark":{"type":"text","style":"serif","align":"left","baseline":"alphabetic","fontSize":22.5,"dx":19},"encoding":{"text":{"field":"t"}}}
]},
{"width":227,"height":141,"view":{"stroke":null},"data":{"name":"labels"},"transform":[{"filter":"datum.p==6"}],"encoding":{"x":{"field":"k","type":"quantitative","scale":{"domain":[0,1],"range":[-74,89]},"axis":null},"y":{"field":"r","type":"quantitative","scale":{"domain":[0,1,2],"range":[71,96,120]},"axis":null}},"layer":[
 {"mark":{"type":"text","style":"serif","align":"left","baseline":"alphabetic","fontSize":22.5},"encoding":{"text":{"field":"b"}}},
 {"mark":{"type":"text","style":"serif","align":"left","baseline":"alphabetic","fontSize":15,"dx":12,"dy":4},"encoding":{"text":{"field":"s"}}},
 {"transform":[{"filter":"datum.s=='push'"}],"mark":{"type":"text","style":"serif","align":"left","baseline":"alphabetic","fontSize":22.5,"dx":40.5},"encoding":{"text":{"field":"t"}}},
 {"transform":[{"filter":"datum.s=='pull'"}],"mark":{"type":"text","style":"serif","align":"left","baseline":"alphabetic","fontSize":22.5,"dx":35.5},"encoding":{"text":{"field":"t"}}},
 {"transform":[{"filter":"datum.s=='o'"}],"mark":{"type":"text","style":"serif","align":"left","baseline":"alphabetic","fontSize":22.5,"dx":19},"encoding":{"text":{"field":"t"}}}
]},
{"width":227,"height":126,"encoding":{"x":{"type":"quantitative","scale":{"domain":[-1,4],"nice":false,"zero":false},"axis":{"values":[-1,0,1,2,3,4],"title":"Displacement (mm)"}},"y":{"type":"quantitative","scale":{"domain":[-200,200],"nice":false,"zero":false},"axis":{"values":[-200,-150,-100,-50,0,50,100,150,200],"title":"Force (kN)"}}},"layer":[
 {"data":{"name":"loops"},"transform":[{"filter":"datum.p==7"}],"mark":{"type":"line","color":"#95b3d7","strokeWidth":1.1},"encoding":{"x":{"field":"x"},"y":{"field":"y"},"detail":{"field":"c"},"order":{"value":null}}},
 {"data":{"name":"tags"},"transform":[{"filter":"datum.t=='Push'"}],"mark":{"type":"text","style":"serif","align":"right","baseline":"top","dx":-7,"dy":3,"fontSize":14},"encoding":{"x":{"datum":4},"y":{"datum":200},"text":{"field":"t"}}},
 {"data":{"name":"tags"},"transform":[{"filter":"datum.t=='Pull'"}],"mark":{"type":"text","style":"serif","align":"left","baseline":"alphabetic","dx":7,"dy":-4,"fontSize":14},"encoding":{"x":{"datum":-1},"y":{"datum":-200},"text":{"field":"t"}}}
]},
{"width":227,"height":126,"encoding":{"x":{"type":"quantitative","scale":{"domain":[-1,4],"nice":false,"zero":false},"axis":{"values":[-1,0,1,2,3,4],"title":"Displacement (mm)"}},"y":{"type":"quantitative","scale":{"domain":[-200,200],"nice":false,"zero":false},"axis":{"values":[-200,-150,-100,-50,0,50,100,150,200],"title":"Force (kN)"}}},"layer":[
 {"data":{"name":"loops"},"transform":[{"filter":"datum.p==8"}],"mark":{"type":"line","color":"#dc8c8a","strokeWidth":1.1},"encoding":{"x":{"field":"x"},"y":{"field":"y"},"detail":{"field":"c"},"order":{"value":null}}},
 {"data":{"name":"tags"},"transform":[{"filter":"datum.t=='Push'"}],"mark":{"type":"text","style":"serif","align":"right","baseline":"top","dx":-5,"dy":3,"fontSize":14},"encoding":{"x":{"datum":4},"y":{"datum":200},"text":{"field":"t"}}},
 {"data":{"name":"tags"},"transform":[{"filter":"datum.t=='Pull'"}],"mark":{"type":"text","style":"serif","align":"left","baseline":"alphabetic","dx":7,"dy":-4,"fontSize":14},"encoding":{"x":{"datum":-1},"y":{"datum":-200},"text":{"field":"t"}}}
]},
{"width":227,"height":126,"encoding":{"x":{"type":"quantitative","scale":{"domain":[-1,4],"nice":false,"zero":false},"axis":{"values":[-1,0,1,2,3,4],"title":"Displacement (mm)"}},"y":{"type":"quantitative","scale":{"domain":[-200,200],"nice":false,"zero":false},"axis":{"values":[-200,-150,-100,-50,0,50,100,150,200],"title":"Force (kN)"}}},"layer":[
 {"data":{"name":"loops"},"transform":[{"filter":"datum.p==9"}],"mark":{"type":"line","color":"#c3d69b","strokeWidth":1.3},"encoding":{"x":{"field":"x"},"y":{"field":"y"},"detail":{"field":"c"},"order":{"value":null}}},
 {"data":{"name":"tags"},"transform":[{"filter":"datum.t=='Push'"}],"mark":{"type":"text","style":"serif","align":"right","baseline":"top","dx":-5,"dy":3,"fontSize":14},"encoding":{"x":{"datum":4},"y":{"datum":200},"text":{"field":"t"}}},
 {"data":{"name":"tags"},"transform":[{"filter":"datum.t=='Pull'"}],"mark":{"type":"text","style":"serif","align":"left","baseline":"alphabetic","dx":7,"dy":-4,"fontSize":14},"encoding":{"x":{"datum":-1},"y":{"datum":-200},"text":{"field":"t"}}}
]},
{"width":227,"height":125,"view":{"stroke":null},"data":{"name":"labels"},"transform":[{"filter":"datum.p==7"}],"encoding":{"x":{"field":"k","type":"quantitative","scale":{"domain":[0,1],"range":[-75,102]},"axis":null},"y":{"field":"r","type":"quantitative","scale":{"domain":[0,1,2],"range":[69,96,119]},"axis":null}},"layer":[
 {"mark":{"type":"text","style":"serif","align":"left","baseline":"alphabetic","fontSize":22.5},"encoding":{"text":{"field":"b"}}},
 {"mark":{"type":"text","style":"serif","align":"left","baseline":"alphabetic","fontSize":15,"dx":12,"dy":4},"encoding":{"text":{"field":"s"}}},
 {"transform":[{"filter":"datum.s=='push'"}],"mark":{"type":"text","style":"serif","align":"left","baseline":"alphabetic","fontSize":22.5,"dx":40.5},"encoding":{"text":{"field":"t"}}},
 {"transform":[{"filter":"datum.s=='pull'"}],"mark":{"type":"text","style":"serif","align":"left","baseline":"alphabetic","fontSize":22.5,"dx":35.5},"encoding":{"text":{"field":"t"}}},
 {"transform":[{"filter":"datum.s=='o'"}],"mark":{"type":"text","style":"serif","align":"left","baseline":"alphabetic","fontSize":22.5,"dx":19},"encoding":{"text":{"field":"t"}}}
]},
{"width":227,"height":125,"view":{"stroke":null},"data":{"name":"labels"},"transform":[{"filter":"datum.p==8"}],"encoding":{"x":{"field":"k","type":"quantitative","scale":{"domain":[0,1],"range":[-76,104]},"axis":null},"y":{"field":"r","type":"quantitative","scale":{"domain":[0,1,2],"range":[69,96,119]},"axis":null}},"layer":[
 {"mark":{"type":"text","style":"serif","align":"left","baseline":"alphabetic","fontSize":22.5},"encoding":{"text":{"field":"b"}}},
 {"mark":{"type":"text","style":"serif","align":"left","baseline":"alphabetic","fontSize":15,"dx":12,"dy":4},"encoding":{"text":{"field":"s"}}},
 {"transform":[{"filter":"datum.s=='push'"}],"mark":{"type":"text","style":"serif","align":"left","baseline":"alphabetic","fontSize":22.5,"dx":40.5},"encoding":{"text":{"field":"t"}}},
 {"transform":[{"filter":"datum.s=='pull'"}],"mark":{"type":"text","style":"serif","align":"left","baseline":"alphabetic","fontSize":22.5,"dx":35.5},"encoding":{"text":{"field":"t"}}},
 {"transform":[{"filter":"datum.s=='o'"}],"mark":{"type":"text","style":"serif","align":"left","baseline":"alphabetic","fontSize":22.5,"dx":19},"encoding":{"text":{"field":"t"}}}
]},
{"width":227,"height":125,"view":{"stroke":null},"data":{"name":"labels"},"transform":[{"filter":"datum.p==9"}],"encoding":{"x":{"field":"k","type":"quantitative","scale":{"domain":[0,1],"range":[-74,89]},"axis":null},"y":{"field":"r","type":"quantitative","scale":{"domain":[0,1,2],"range":[69,96,119]},"axis":null}},"layer":[
 {"mark":{"type":"text","style":"serif","align":"left","baseline":"alphabetic","fontSize":22.5},"encoding":{"text":{"field":"b"}}},
 {"mark":{"type":"text","style":"serif","align":"left","baseline":"alphabetic","fontSize":15,"dx":12,"dy":4},"encoding":{"text":{"field":"s"}}},
 {"transform":[{"filter":"datum.s=='push'"}],"mark":{"type":"text","style":"serif","align":"left","baseline":"alphabetic","fontSize":22.5,"dx":40.5},"encoding":{"text":{"field":"t"}}},
 {"transform":[{"filter":"datum.s=='pull'"}],"mark":{"type":"text","style":"serif","align":"left","baseline":"alphabetic","fontSize":22.5,"dx":35.5},"encoding":{"text":{"field":"t"}}},
 {"transform":[{"filter":"datum.s=='o'"}],"mark":{"type":"text","style":"serif","align":"left","baseline":"alphabetic","fontSize":22.5,"dx":19},"encoding":{"text":{"field":"t"}}}
]}
],
"config": {
 "font": "Liberation Serif, Times New Roman, DejaVu Serif, serif",
 "view": {"stroke": "#a6a6a6", "strokeWidth": 1},
 "style": {"serif": {"font": "Liberation Serif, Times New Roman, DejaVu Serif, serif", "fill": "#000000"}},
 "axis": {"labelFont": "Liberation Serif, Times New Roman, DejaVu Serif, serif", "labelFontSize": 14, "labelColor": "#000000", "titleFont": "Liberation Serif, Times New Roman, DejaVu Serif, serif", "titleFontSize": 15.5, "titleFontWeight": "normal", "titleColor": "#000000", "ticks": false, "tickSize": 0, "domain": false, "grid": true, "gridColor": {"condition": {"test": "datum.value === 0", "value": "#595959"}, "value": "#cccccc"}, "gridWidth": 1, "labelOverlap": false, "labelFlush": false, "labelBound": false},
 "axisX": {"labelPadding": 10, "titlePadding": 2},
 "axisY": {"labelPadding": 12, "titlePadding": 8}
}
}
